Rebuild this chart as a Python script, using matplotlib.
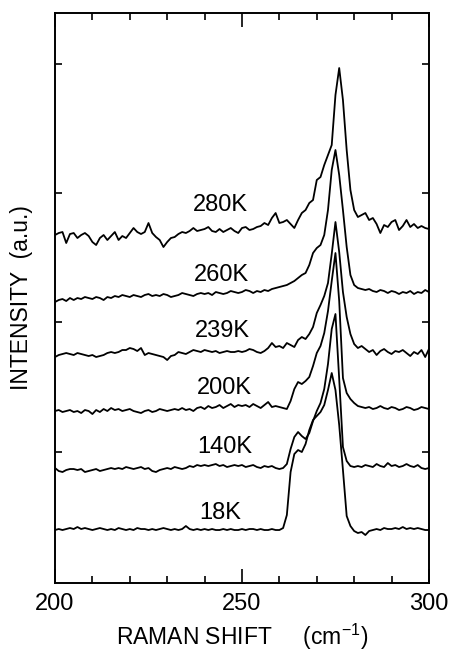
import numpy as np
import matplotlib.pyplot as plt

plt.rcParams['font.family'] = ['Liberation Sans', 'DejaVu Sans']

# Raman shift grid (cm-1)
shift = np.arange(200, 301)

temps = ['18K', '140K', '200K', '239K', '260K', '280K']

# baseline of each trace (arbitrary units, stacked)
offsets = [53, 114, 172, 231, 288, 353]

# intensity above baseline, one value per cm-1 from 200 to 300
i_18 = [0, 1, 0, 1, 2, 1, 3, 1, 2, 1,
        0, 1, 2, 1, 0, 1, 0, 2, 1, 0,
        1, 0, 2, 1, 1, 0, 1, 0, 1, 2,
        1, 0, 1, 0, 1, 4, 1, 0, 1, 0,
        1, 0, 1, 0, 0, 1, 0, 1, 0, 0,
        1, 0, 1, 1, 0, 1, 0, 0, 1, 0,
        0, 2, 15, 58, 76, 80, 78, 86, 100, 110,
        114, 118, 125, 140, 157, 140, 105, 60, 14, 4,
        -1, -3, -2, -5, -1, 0, 1, 0, 2, 1,
        1, 2, 1, 3, 1, 2, 1, 2, 1, 0,
        0]
i_140 = [1, -2, -3, -1, 0, 0, -1, 0, -3, -2,
         -1, 0, -2, -1, 0, 1, 0, 1, 0, 2,
         1, 0, 1, 2, 0, 1, -2, -3, -1, 0,
         1, 0, 2, 1, 0, 1, 3, 2, 4, 3,
         4, 3, 4, 5, 3, 4, 2, 3, 4, 3,
         4, 2, 3, 4, 2, 1, 3, 2, 3, 1,
         0, 1, 5, 20, 32, 37, 33, 30, 36, 48,
         58, 66, 80, 105, 140, 155, 90, 22, 8, 3,
         2, 3, 2, 4, 3, 2, 5, 3, 2, 6,
         3, 4, 2, 3, 5, 3, 2, 4, 1, 0,
         1]
i_200 = [0, 1, -1, 0, 1, -1, 0, -2, 1, 0,
         -3, 1, -1, 2, 0, 3, 1, 2, 0, 1,
         2, 0, -1, -2, 0, 1, -1, 0, 2, 1,
         0, 1, 2, 1, 3, 1, 2, 0, 3, 4,
         2, 5, 3, 4, 6, 3, 5, 7, 4, 6,
         5, 6, 4, 7, 5, 3, 6, 9, 4, 5,
         4, 3, 2, 10, 22, 29, 27, 30, 34, 45,
         58, 65, 78, 100, 130, 158, 110, 33, 18, 12,
         8, 5, 4, 3, 4, 2, 3, 5, 3, 2,
         4, 3, 1, 2, 4, 3, 1, 2, 4, 3,
         2]
i_239 = [-5, -3, -2, -1, -2, -3, -1, -2, -3, -4,
         -3, -5, -4, -3, -1, 0, -1, 0, 2, 2,
         4, 3, 1, 4, -3, -1, -2, -3, -4, -5,
         -8, -4, -3, 0, -1, -2, 0, 2, 1, 0,
         2, 1, 0, 1, -1, 0, 1, 0, 0, 1,
         0, 1, 3, 2, 0, -1, 1, 4, 9, 5,
         6, 4, 9, 7, 5, 12, 15, 13, 18, 25,
         39, 47, 56, 69, 98, 130, 100, 60, 35, 18,
         8, 4, 6, 3, 0, 2, -3, 1, 3, 0,
         -2, 1, 0, 2, -1, -4, 0, -2, 2, -5,
         3]
i_260 = [-7, -5, -4, -6, -3, -5, -3, -4, -2, -3,
         -4, -2, -3, -5, -2, -3, -1, -2, 0, -1,
         -2, 0, -1, -2, 0, 1, -1, 0, -1, 1,
         0, -2, -1, 0, 2, 1, 0, -1, 1, 2,
         1, 2, 0, 3, 2, 1, 2, 4, 3, 2,
         3, 5, 4, 2, 4, 3, 5, 4, 6, 7,
         8, 9, 10, 12, 14, 17, 20, 22, 30, 42,
         47, 50, 60, 85, 125, 145, 120, 85, 48, 20,
         10, 7, 6, 5, 6, 4, 3, 5, 4, 2,
         4, 3, 1, 3, 2, 4, 1, 3, 2, 5,
         3]
i_280 = [-5, -3, -2, -13, -4, -3, -8, -5, -3, -6,
         -12, -15, -8, -5, -10, -6, -2, -10, -6, -8,
         -3, 2, -2, -4, -2, 7, -3, -7, -10, -17,
         -12, -8, -7, -4, -2, -3, -1, 2, -1, 0,
         1, 3, -1, -2, 1, -2, 0, 2, -1, -3,
         2, 3, 0, 1, 3, 4, 7, 5, 12, 17,
         7, 8, 10, 6, 2, 10, 17, 20, 27, 30,
         50, 53, 65, 75, 85, 135, 162, 130, 80, 40,
         20, 13, 15, 17, 10, 12, 6, -3, 5, 3,
         8, 10, 0, 4, 10, 3, 6, 2, 4, 2,
         1]
spectra = [i_18, i_140, i_200, i_239, i_260, i_280]

fig = plt.figure(figsize=(4.52, 6.57), dpi=100)
ax = fig.add_axes([0.1217, 0.1126, 0.8273, 0.8676])

for name, off, vals in zip(temps, offsets, spectra):
    y = off + np.array(vals)
    ax.plot(shift, y, color='black', lw=1.3)

# labels sit just above each trace
label_pos = [(244.1, 70), (245.5, 136), (245.2, 195), (244.7, 252), (244.4, 308), (244.1, 378)]
for name, (lx, ly) in zip(temps, label_pos):
    ax.text(lx, ly, name, fontsize=17, ha='center', va='center')

ax.set_xlim(200, 300)
ax.set_ylim(0, 570)
ax.set_xticks([200, 250, 300])
ax.set_xticks(np.arange(210, 300, 10), minor=True)
ax.set_yticks([131, 261, 390, 519])
ax.set_yticklabels([])
ax.tick_params(axis='x', which='major', direction='in', length=10, width=1.2,
               top=True, labelsize=17, pad=7)
ax.tick_params(axis='x', which='minor', direction='in', length=5, width=1.2, top=True)
ax.tick_params(axis='y', which='major', direction='in', length=5, width=1.2, right=True)
for s in ax.spines.values():
    s.set_linewidth(1.4)

ax.set_xlabel('RAMAN SHIFT     (cm$^{\\mathregular{-1}}$)', fontsize=16.5, labelpad=5)
ax.set_ylabel('INTENSITY  (a.u.)', fontsize=16.5, labelpad=12)

fig.savefig('out.png', dpi=100)
